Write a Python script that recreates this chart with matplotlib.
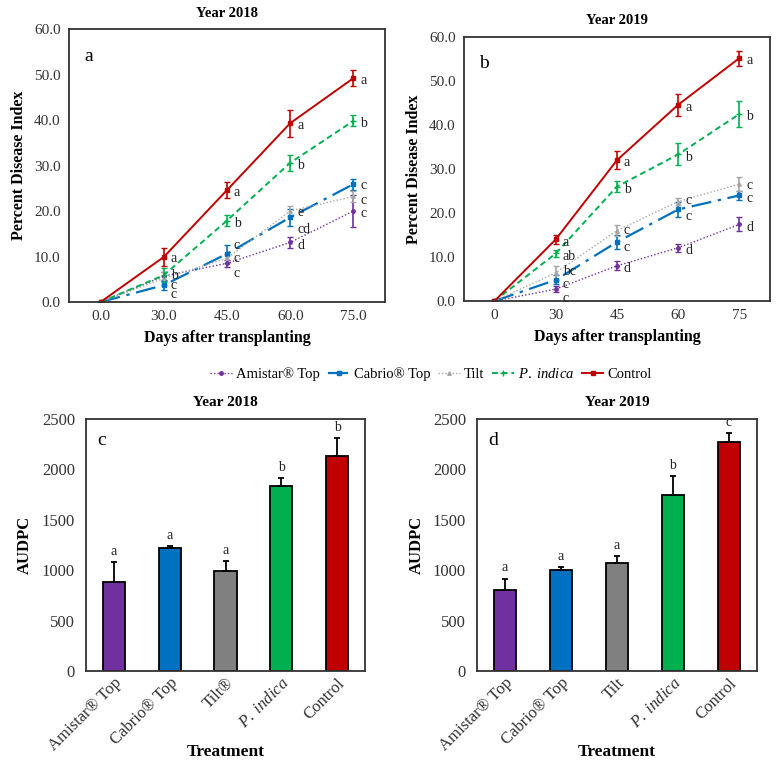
import matplotlib
matplotlib.use("Agg")
import matplotlib.pyplot as plt
from matplotlib.lines import Line2D
import numpy as np

plt.rcParams['font.family'] = ['Liberation Serif', 'DejaVu Serif']
plt.rcParams['mathtext.fontset'] = 'custom'
plt.rcParams['mathtext.rm'] = 'Liberation Serif'
plt.rcParams['mathtext.it'] = 'Liberation Serif:italic'
plt.rcParams['mathtext.bf'] = 'Liberation Serif:bold'

# ---------------- data ----------------
days_2018 = ["0.0", "30.0", "45.0", "60.0", "75.0"]
days_2019 = ["0", "30", "45", "60", "75"]
series_names = ["Amistar® Top", "Cabrio® Top", "Tilt", "$\\it{P.\\ indica}$", "Control"]

pdi_2018 = {
    "Amistar": [0.0, 5.7, 8.5, 13.1, 20.0],
    "Cabrio":  [0.0, 3.7, 10.6, 18.6, 25.9],
    "Tilt":    [0.0, 5.2, 9.6, 20.0, 23.2],
    "Pindica": [0.0, 5.9, 17.9, 30.6, 39.8],
    "Control": [0.0, 9.9, 24.6, 39.3, 49.2],
}
err_2018 = {
    "Amistar": [0.0, 0.8, 0.8, 1.2, 3.6],
    "Cabrio":  [0.0, 1.0, 2.0, 1.8, 1.2],
    "Tilt":    [0.0, 1.5, 1.0, 1.0, 1.2],
    "Pindica": [0.0, 1.6, 1.3, 1.7, 1.2],
    "Control": [0.0, 1.9, 1.8, 3.0, 1.7],
}
letters_2018 = {
    "Amistar": ["", "c", "c", "d", "c"],
    "Cabrio":  ["", "c", "c", "cd", "c"],
    "Tilt":    ["", "", "c", "e", "c"],
    "Pindica": ["", "b", "b", "b", "b"],
    "Control": ["", "a", "a", "a", "a"],
}
# vertical nudges (points) for crowded letters
nudge_2018 = {
    "Amistar": [0, -11, -5, 0, 0],
    "Cabrio":  [0, 2, 8, -7, 1],
    "Tilt":    [0, 0, 2, 1, -1],
    "Pindica": [0, 2, 0, 0, 0],
    "Control": [0, 1, 0, 0, 0],
}

pdi_2019 = {
    "Amistar": [0.0, 2.7, 8.0, 12.1, 17.4],
    "Cabrio":  [0.0, 4.8, 13.4, 20.8, 24.0],
    "Tilt":    [0.0, 6.4, 16.0, 22.6, 26.6],
    "Pindica": [0.0, 10.8, 26.0, 33.3, 42.5],
    "Control": [0.0, 14.0, 32.0, 44.6, 55.2],
}
err_2019 = {
    "Amistar": [0.0, 0.7, 1.0, 0.9, 1.6],
    "Cabrio":  [0.0, 1.0, 1.5, 1.6, 1.0],
    "Tilt":    [0.0, 1.6, 1.2, 0.8, 1.5],
    "Pindica": [0.0, 0.8, 1.2, 2.5, 3.0],
    "Control": [0.0, 1.0, 2.0, 2.5, 1.7],
}
letters_2019 = {
    "Amistar": ["", "c", "d", "d", "d"],
    "Cabrio":  ["", "c", "c", "c", "c"],
    "Tilt":    ["", "bc", "c", "c", "c"],
    "Pindica": ["", "ab", "b", "b", "b"],
    "Control": ["", "a", "a", "a", "a"],
}
nudge_2019 = {
    "Amistar": [0, -5, 0, 0, 0],
    "Cabrio":  [0, -1, -2, -3, 0],
    "Tilt":    [0, 3, 2, 3, 1],
    "Pindica": [0, 0, 0, 0, 0],
    "Control": [0, 0, 0, 0, 0],
}

treat_2018 = ["Amistar® Top", "Cabrio® Top", "Tilt®", "$\\it{P.\\ indica}$", "Control"]
treat_2019 = ["Amistar® Top", "Cabrio® Top", "Tilt", "$\\it{P.\\ indica}$", "Control"]
audpc_2018 = [884, 1225, 990, 1831, 2136]
audpc_err_2018 = [195, 13, 99, 79, 172]
audpc_let_2018 = ["a", "a", "a", "b", "b"]
audpc_2019 = [808, 1003, 1073, 1748, 2268]
audpc_err_2019 = [109, 27, 63, 186, 89]
audpc_let_2019 = ["a", "a", "a", "b", "c"]

# ---------------- styles ----------------
keys = ["Amistar", "Cabrio", "Tilt", "Pindica", "Control"]
line_colors = {"Amistar": "#7030A0", "Cabrio": "#0070C0", "Tilt": "#A6A6A6",
               "Pindica": "#00B050", "Control": "#C00000"}
bar_colors = ["#7030A0", "#0070C0", "#808080", "#00B050", "#C00000"]
lstyles = {"Amistar": (0, (1, 1.5)), "Cabrio": (0, (9, 3, 1.5, 3)), "Tilt": (0, (1, 1.5)),
           "Pindica": (0, (3, 2)), "Control": "-"}
markers = {"Amistar": "o", "Cabrio": "s", "Tilt": "^", "Pindica": "+", "Control": "s"}
msizes = {"Amistar": 2.5, "Cabrio": 3.2, "Tilt": 2.5, "Pindica": 4, "Control": 3.2}
lwidths = {"Amistar": 1.0, "Cabrio": 1.6, "Tilt": 1.0, "Pindica": 1.4, "Control": 1.4}

fig = plt.figure(figsize=(7.77, 7.64), dpi=100)

def style_axes(ax):
    for s in ax.spines.values():
        s.set_linewidth(1.3)
        s.set_color("#333333")
    ax.tick_params(length=0, labelsize=11, pad=6, colors="#333333")

def line_panel(rect, data, errs, letters, ticklabels, title, panel, nudges):
    ax = fig.add_axes(rect)
    x = np.arange(len(ticklabels))
    for k in keys:
        ax.errorbar(x, data[k], yerr=errs[k], color=line_colors[k], ls=lstyles[k],
                    lw=lwidths[k], marker=markers[k], ms=msizes[k], mew=1.0,
                    elinewidth=1.2, capsize=2, capthick=1.0)
        for i, (v, t) in enumerate(zip(data[k], letters[k])):
            if not t:
                continue
            dy = -2 + nudges[k][i]
            ax.annotate(t, (x[i], v), xytext=(5, dy), textcoords="offset points",
                        ha="left", va="center", fontsize=10, color="#222222")
    ax.set_xlim(-0.5, len(ticklabels) - 0.5)
    ax.set_ylim(0, 60)
    ax.set_xticks(x)
    ax.set_xticklabels(ticklabels)
    ax.set_yticks(np.arange(0, 61, 10))
    ax.set_yticklabels([f"{v:.1f}" for v in np.arange(0, 61, 10)])
    ax.set_xlabel("Days after transplanting", fontsize=11.5, fontweight="bold", labelpad=5)
    ax.set_ylabel("Percent Disease Index", fontsize=11.5, fontweight="bold", labelpad=5)
    ax.set_title(title, fontsize=10.5, fontweight="bold", pad=9)
    ax.text(0.05, 0.93, panel, transform=ax.transAxes, fontsize=14, va="top", ha="left")
    style_axes(ax)
    return ax

def bar_panel(rect, labels, vals, errs, lets, title, panel):
    ax = fig.add_axes(rect)
    x = np.arange(len(labels))
    ax.bar(x, vals, width=0.4, color=bar_colors, edgecolor="black", linewidth=1.3, zorder=2)
    ax.errorbar(x, vals, yerr=[np.zeros(len(vals)), errs], fmt="none", ecolor="black",
                elinewidth=1.3, capsize=2.5, capthick=1.3, zorder=3)
    for xi, v, e, t in zip(x, vals, errs, lets):
        ax.annotate(t, (xi, v + e), xytext=(0, 3), textcoords="offset points",
                    ha="center", va="bottom", fontsize=10, color="#222222")
    ax.set_xlim(-0.5, len(labels) - 0.5)
    ax.set_ylim(0, 2500)
    ax.set_yticks(np.arange(0, 2501, 500))
    ax.set_xticks(x)
    ax.set_xticklabels(labels, rotation=45, ha="right", rotation_mode="anchor")
    ax.set_xlabel("Treatment", fontsize=12.5, fontweight="bold")
    ax.xaxis.set_label_coords(0.5, -0.29)
    ax.set_ylabel("AUDPC", fontsize=12, fontweight="bold", labelpad=6)
    ax.set_title(title, fontsize=11, fontweight="bold", pad=9)
    ax.text(0.04, 0.95, panel, transform=ax.transAxes, fontsize=14, va="top", ha="left")
    style_axes(ax)
    ax.tick_params(axis="x", labelsize=12, pad=3)
    ax.tick_params(axis="y", labelsize=12, pad=8)
    return ax

line_panel([0.0888, 0.6047, 0.4067, 0.3573], pdi_2018, err_2018, letters_2018,
           days_2018, "Year 2018", "a", nudge_2018)
line_panel([0.597, 0.606, 0.394, 0.3456], pdi_2019, err_2019, letters_2019,
           days_2019, "Year 2019", "b", nudge_2019)

bar_panel([0.1107, 0.1217, 0.3591, 0.3299], treat_2018, audpc_2018, audpc_err_2018,
          audpc_let_2018, "Year 2018", "c")
bar_panel([0.614, 0.1217, 0.360, 0.3299], treat_2019, audpc_2019, audpc_err_2019,
          audpc_let_2019, "Year 2019", "d")

handles = [Line2D([], [], color=line_colors[k], ls=lstyles[k], lw=lwidths[k],
                  marker=markers[k], ms=msizes[k], mew=1.0) for k in keys]
fig.legend(handles, series_names, loc="center", bbox_to_anchor=(0.555, 0.51), ncol=5,
           frameon=False, fontsize=10.5, handlelength=1.5, handletextpad=0.3,
           columnspacing=0.5)

fig.savefig("out.png", dpi=100)
